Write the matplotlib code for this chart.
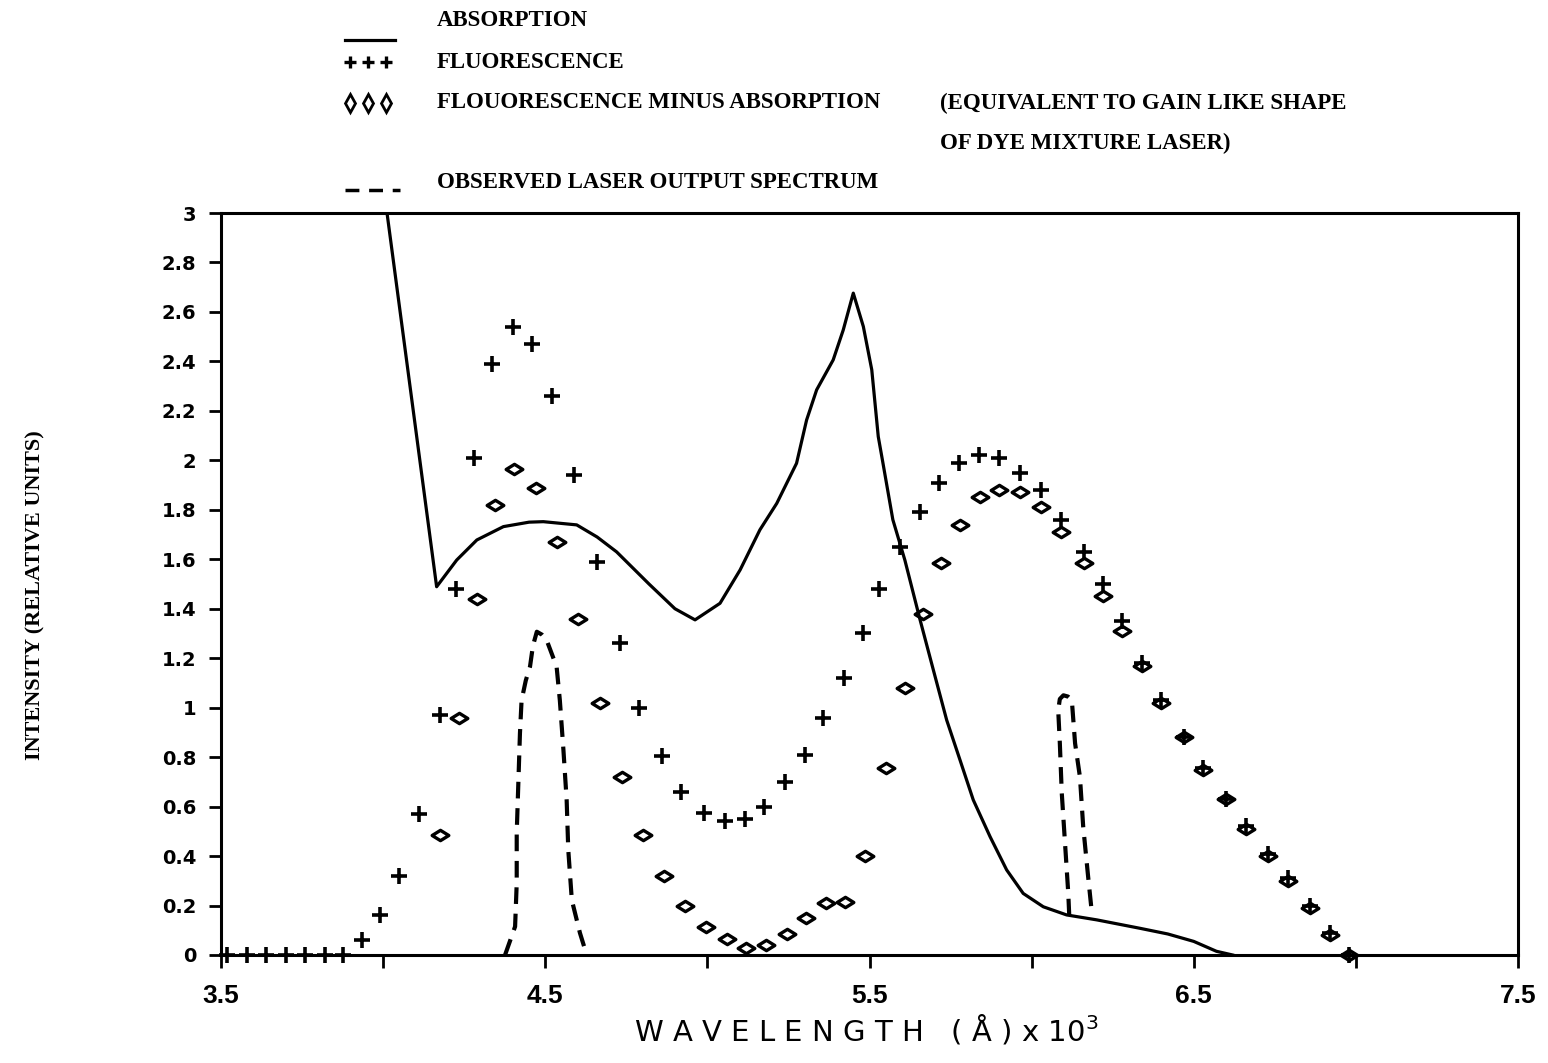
import numpy as np
import matplotlib
matplotlib.use('Agg')
import matplotlib.pyplot as plt
from matplotlib.lines import Line2D
from matplotlib.path import Path
from matplotlib import font_manager

W, H = 1548, 1063
plt.rcParams['path.simplify'] = False
plt.rcParams['lines.scale_dashes'] = False

# pick a condensed bold face if one is around
names = {f.name for f in font_manager.fontManager.ttflist}
narrow = 'Liberation Sans Narrow' if 'Liberation Sans Narrow' in names else 'Liberation Serif'

# absorption (solid line)
abs_x = [4.012, 4.165, 4.227, 4.289, 4.371, 4.45, 4.494, 4.597, 4.66, 4.72, 4.82, 4.90,
         4.962, 5.039, 5.101, 5.162, 5.214, 5.275, 5.306, 5.337, 5.388, 5.419, 5.450,
         5.481, 5.507, 5.527, 5.54, 5.572, 5.609, 5.656, 5.697, 5.738, 5.779, 5.820,
         5.872, 5.923, 5.974, 6.036, 6.108, 6.201, 6.334, 6.42, 6.50, 6.57, 6.62]
abs_y = [3.0, 1.489, 1.597, 1.678, 1.732, 1.75, 1.752, 1.739, 1.69, 1.63, 1.50, 1.40,
         1.355, 1.422, 1.557, 1.719, 1.826, 1.988, 2.163, 2.285, 2.406, 2.527, 2.676,
         2.541, 2.366, 2.096, 2.00, 1.76, 1.597, 1.355, 1.152, 0.95, 0.789, 0.627,
         0.478, 0.344, 0.249, 0.195, 0.162, 0.142, 0.108, 0.085, 0.055, 0.015, 0.0]

# fluorescence (+)
fl_x = [3.52, 3.58, 3.64, 3.70, 3.76, 3.82, 3.875, 3.935, 3.99, 4.05, 4.11, 4.175,
        4.225, 4.28, 4.336, 4.40, 4.46, 4.52, 4.59, 4.66, 4.73, 4.79, 4.86, 4.92, 4.99,
        5.055, 5.115, 5.175, 5.24, 5.30, 5.357, 5.42, 5.48, 5.53, 5.594, 5.656, 5.714,
        5.776, 5.838, 5.90, 5.964, 6.03, 6.09, 6.16, 6.22, 6.28, 6.34, 6.40, 6.47, 6.53,
        6.60, 6.66, 6.73, 6.79, 6.86, 6.92, 6.98]
fl_y = [0, 0, 0, 0, 0, 0, 0, 0.06, 0.16, 0.32, 0.57, 0.97,
        1.48, 2.01, 2.39, 2.54, 2.47, 2.26, 1.94, 1.59, 1.26, 1.00, 0.805, 0.66, 0.575,
        0.54, 0.55, 0.60, 0.70, 0.81, 0.96, 1.12, 1.30, 1.48, 1.65, 1.79, 1.91,
        1.99, 2.02, 2.01, 1.95, 1.88, 1.76, 1.63, 1.50, 1.35, 1.18, 1.03, 0.88, 0.756,
        0.63, 0.52, 0.41, 0.31, 0.20, 0.09, 0.0]

# fluorescence minus absorption (diamonds)
diff_x = [4.175, 4.234, 4.29, 4.345, 4.405, 4.47, 4.535, 4.60, 4.67, 4.737, 4.80, 4.865,
          4.93, 4.995, 5.06, 5.12, 5.18, 5.245, 5.305, 5.365, 5.425, 5.485, 5.55, 5.61,
          5.665, 5.72, 5.78, 5.84, 5.90, 5.964, 6.03, 6.09, 6.16, 6.22, 6.28, 6.34, 6.40,
          6.47, 6.53, 6.60, 6.66, 6.73, 6.79, 6.86, 6.92, 6.98]
diff_y = [0.485, 0.96, 1.44, 1.82, 1.965, 1.89, 1.67, 1.36, 1.02, 0.72, 0.485, 0.32,
          0.20, 0.115, 0.065, 0.03, 0.04, 0.085, 0.15, 0.21, 0.215, 0.40, 0.755, 1.08,
          1.38, 1.585, 1.74, 1.85, 1.88, 1.87, 1.81, 1.71, 1.585, 1.45, 1.31, 1.17, 1.02,
          0.88, 0.75, 0.63, 0.51, 0.40, 0.30, 0.19, 0.08, 0.0]

# observed laser output (dashed), two lines
las1_x = [4.376, 4.407, 4.412, 4.412, 4.417, 4.422, 4.427, 4.440, 4.453, 4.462, 4.474,
          4.490, 4.504, 4.535, 4.545, 4.556, 4.566, 4.571, 4.582, 4.607, 4.628]
las1_y = [0.0, 0.115, 0.29, 0.493, 0.695, 0.897, 1.03, 1.11, 1.166, 1.25, 1.307,
          1.295, 1.274, 1.166, 1.03, 0.83, 0.627, 0.425, 0.222, 0.089, 0.0]
las2_x = [6.116, 6.113, 6.103, 6.093, 6.087, 6.082, 6.087, 6.098, 6.112, 6.124, 6.134,
          6.149, 6.159, 6.174, 6.185]
las2_y = [0.16, 0.25, 0.452, 0.654, 0.856, 0.99, 1.035, 1.05, 1.045, 1.03, 0.856,
          0.72, 0.52, 0.32, 0.18]

x_ticks = [3.5, 4.0, 4.5, 5.0, 5.5, 6.0, 6.5, 7.0, 7.5]
x_labels = ['3.5', '', '4.5', '', '5.5', '', '6.5', '', '7.5']
y_ticks = np.round(np.arange(0, 3.01, 0.2), 1)

# flat diamond marker
diamond = Path([(-1, 0), (0, 0.62), (1, 0), (0, -0.62), (-1, 0)],
               [Path.MOVETO, Path.LINETO, Path.LINETO, Path.LINETO, Path.CLOSEPOLY])

fig = plt.figure(figsize=(W / 100, H / 100), dpi=100)
ax = fig.add_axes([221 / W, 1 - 955 / H, (1518 - 221) / W, (955 - 213) / H])

ax.plot(abs_x, abs_y, color='black', lw=2.3, solid_joinstyle='round')
for lx, ly in [(las1_x, las1_y), (las2_x, las2_y)]:
    ax.plot(lx, ly, color='black', lw=3.0, linestyle=(0, (12, 7)), dash_capstyle='butt')
ax.plot(fl_x, fl_y, ls='none', marker='+', ms=12, mew=2.6, color='black', clip_on=False)
ax.plot(diff_x, diff_y, ls='none', marker=diamond, ms=12, mew=2.4, mfc='none',
        mec='black', clip_on=False)

ax.set_xlim(3.5, 7.5)
ax.set_ylim(0, 3)
ax.set_xticks(x_ticks)
ax.set_xticklabels(x_labels)
ax.set_yticks(y_ticks)
ax.set_yticklabels(['%g' % v for v in y_ticks])
for s in ax.spines.values():
    s.set_linewidth(2.2)
ax.tick_params(axis='both', direction='out', length=9, width=2.0, colors='black')
ax.tick_params(axis='x', pad=12)
ax.tick_params(axis='y', pad=9)
for lab in ax.get_yticklabels():
    lab.set_fontfamily('DejaVu Sans')
    lab.set_fontweight('bold')
    lab.set_fontsize(14)
for lab in ax.get_xticklabels():
    lab.set_fontfamily('Liberation Sans')
    lab.set_fontweight('bold')
    lab.set_fontsize(19)

fig.text(35 / W, 1 - 595 / H, 'INTENSITY (RELATIVE UNITS)', rotation=90,
         ha='center', va='center', family=narrow, weight='bold', fontsize=16)
fig.text(866 / W, 1 - 1030 / H, 'W A V E L E N G T H   ( Å ) x 10$^3$',
         ha='center', va='center', family='DejaVu Sans', fontsize=21)

# hand-made legend above the axes
tx = 437 / W
rows = [20, 62, 103, 143, 183]
fy = [1 - r / H for r in rows]
leg = dict(family=narrow, weight='bold', fontsize=16.5, va='center', ha='left')
fig.text(tx, fy[0], 'ABSORPTION', **leg)
fig.text(tx, fy[1], 'FLUORESCENCE', **leg)
fig.text(tx, fy[2], 'FLOUORESCENCE MINUS ABSORPTION', **leg)
fig.text(940 / W, fy[2], '(EQUIVALENT TO GAIN LIKE SHAPE', **leg)
fig.text(940 / W, fy[3], 'OF DYE MIXTURE LASER)', **leg)
fig.text(tx, fy[4], 'OBSERVED LASER OUTPUT SPECTRUM', **leg)

sx = [350 / W, 368 / W, 386 / W]
fig.add_artist(Line2D([345 / W, 395 / W], [1 - 40 / H] * 2, color='black', lw=2.3,
                      transform=fig.transFigure))
fig.add_artist(Line2D(sx, [1 - 62 / H] * 3, ls='none', marker='+', ms=9, mew=2.4,
                      color='black', transform=fig.transFigure))
fig.add_artist(Line2D(sx, [1 - 103 / H] * 3, ls='none', marker='d', ms=9, mew=2.0,
                      mfc='none', mec='black', transform=fig.transFigure))
fig.add_artist(Line2D([345 / W, 400 / W], [1 - 190 / H] * 2, color='black', lw=2.5,
                      linestyle=(0, (10, 7)), transform=fig.transFigure))

fig.savefig('out.png', dpi=100, facecolor='white')
